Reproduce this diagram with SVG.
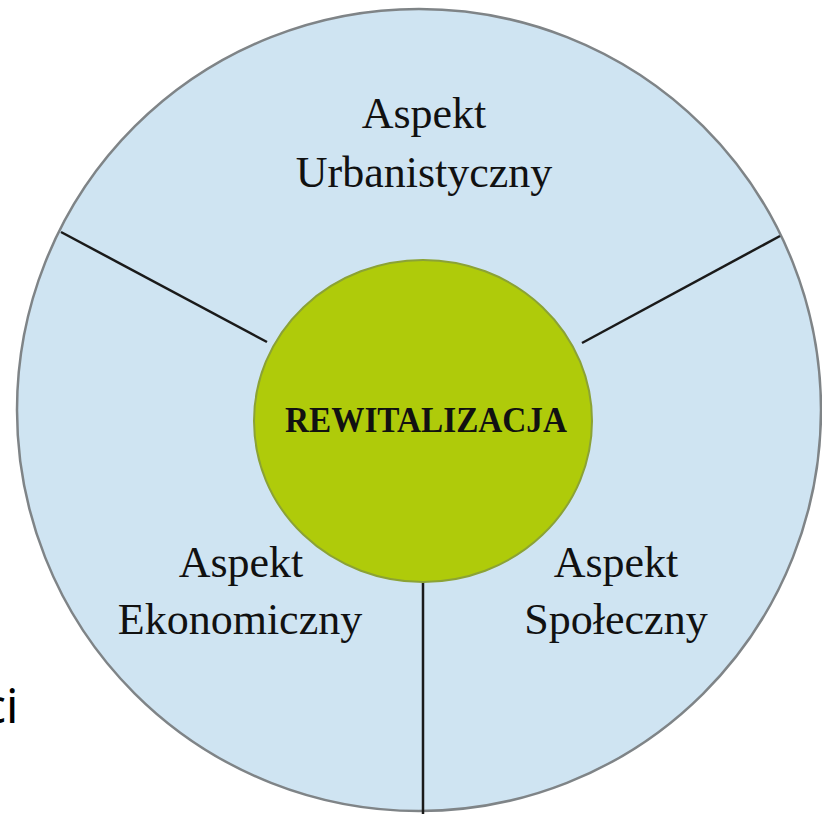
<svg xmlns="http://www.w3.org/2000/svg" width="822" height="814" viewBox="0 0 822 814">
  <style>
    .lbl { font-family: "Liberation Serif", "Times New Roman", serif; font-size: 44px; fill: #111; text-anchor: middle; }
    .core { font-family: "Liberation Serif", "Times New Roman", serif; font-size: 36px; font-weight: bold; fill: #111; text-anchor: middle; }
    .div { stroke: #1a1a1a; stroke-width: 2.5; fill: none; }
  </style>
  <rect width="822" height="814" fill="#ffffff"/>
  <g id="outer">
    <ellipse cx="419" cy="410" rx="402" ry="401" fill="#cfe4f2" stroke="#7f8487" stroke-width="2.5"/>
  </g>
  <g id="connectors">
    <line class="div" x1="61" y1="232" x2="267" y2="342"/>
    <line class="div" x1="780" y1="236" x2="582" y2="343"/>
    <line class="div" x1="423" y1="575" x2="423" y2="814"/>
  </g>
  <g id="center">
    <ellipse cx="423" cy="421" rx="169" ry="161" fill="#afcb0a" stroke="#8ba235" stroke-width="2"/>
    <text class="core" x="426" y="432" textLength="282" lengthAdjust="spacingAndGlyphs">REWITALIZACJA</text>
  </g>
  <g id="urbanistyczny">
    <text class="lbl" x="424" y="128">Aspekt</text>
    <text class="lbl" x="424" y="187">Urbanistyczny</text>
  </g>
  <g id="ekonomiczny">
    <text class="lbl" x="241" y="577">Aspekt</text>
    <text class="lbl" x="240" y="634">Ekonomiczny</text>
  </g>
  <g id="spoleczny">
    <text class="lbl" x="616" y="577">Aspekt</text>
    <text class="lbl" x="616" y="634">Społeczny</text>
  </g>
  <text x="-17" y="723" font-family="'Noto Sans', 'Open Sans', sans-serif" font-size="48" fill="#000">ci</text>
</svg>
